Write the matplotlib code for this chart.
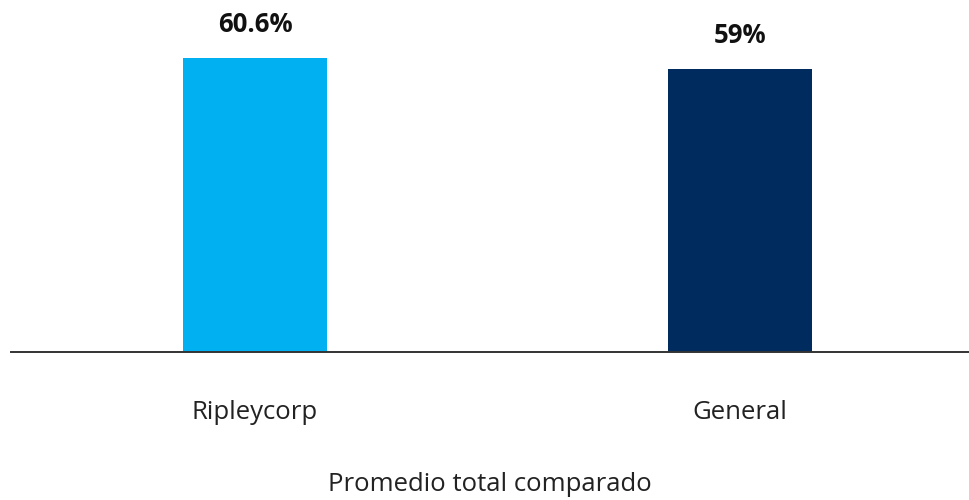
import matplotlib.pyplot as plt

# Datos
categorias = ["Ripleycorp", "General"]
valores = [60.6, 59]
etiquetas = ["60.6%", "59%"]
colores = ["#00B0F0", "#002B5E"]

plt.rcParams['font.family'] = ['Open Sans', 'DejaVu Sans']

fig = plt.figure(figsize=(9.69, 5), dpi=100)
ax = fig.add_axes([11 / 969, (500 - 351.5) / 500, (969 - 11) / 969, 351.5 / 500])

x = range(len(categorias))
bars = ax.bar(x, valores, width=0.297, color=colores, zorder=2)

# Etiquetas de valor encima de las barras
for bar, txt in zip(bars, etiquetas):
    ax.annotate(txt, (bar.get_x() + bar.get_width() / 2, bar.get_height()),
                xytext=(0, 24), textcoords='offset points',
                ha='center', va='center', fontsize=18.5, fontweight='bold', color='#111111')

ax.set_xlim(-0.503, 1.472)
ax.set_ylim(17.9, 69.0)

ax.set_xticks(list(x))
ax.set_xticklabels(categorias, fontsize=18.5, color='#222222')
ax.tick_params(axis='x', length=0, pad=35)
ax.set_yticks([])

ax.set_xlabel("Promedio total comparado", fontsize=18.5, color='#222222', labelpad=34)

for s in ['top', 'right', 'left']:
    ax.spines[s].set_visible(False)
ax.spines['bottom'].set_color('#333333')
ax.spines['bottom'].set_linewidth(1.4)
ax.spines['bottom'].set_zorder(3)

fig.savefig("out.png", dpi=100)
